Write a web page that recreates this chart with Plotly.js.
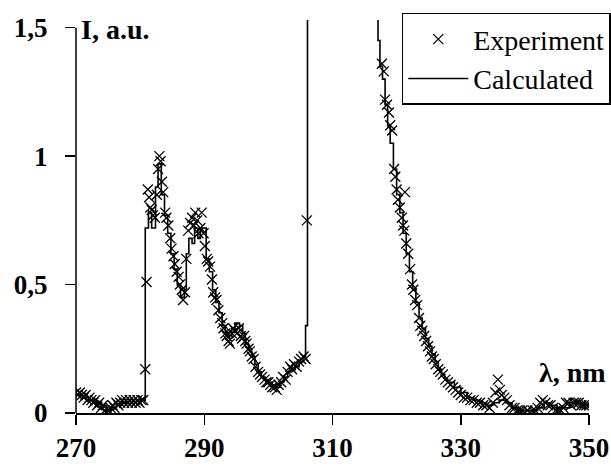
<!DOCTYPE html>
<html>
<head>
<meta charset="utf-8">
<script src="https://cdn.plot.ly/plotly-3.0.1.min.js"></script>
<style>html,body{margin:0;padding:0;background:#fff;}#chart{width:611px;height:474px;}</style>
</head>
<body>
<div id="chart"></div>
<script>
// Experiment (x markers)
const expX = [270.0,270.3,270.6,270.9,271.2,271.5,271.8,272.1,272.4,272.7,273.0,273.3,273.6,273.9,274.2,274.5,274.8,275.1,275.4,275.7,276.0,276.3,276.6,276.9,277.2,277.5,277.8,278.1,278.4,278.7,279.0,279.3,279.6,279.9,280.2,280.5,280.8,281.0,281.2,281.4,281.6,281.8,282.0,282.3,282.6,282.8,283.0,283.2,283.4,283.6,283.9,284.1,284.4,284.7,284.9,285.2,285.4,285.7,286.0,286.2,286.5,286.7,287.0,287.2,287.5,287.8,288.1,288.4,288.6,288.9,289.1,289.4,289.6,289.9,290.1,290.4,290.6,290.9,291.2,291.4,291.7,291.9,292.2,292.5,292.8,293.0,293.3,293.5,293.8,294.0,294.3,294.5,294.8,295.1,295.4,295.7,295.9,296.2,296.4,296.6,296.9,297.1,297.4,297.7,298.0,298.4,298.7,299.0,299.4,299.7,300.0,300.3,300.6,301.0,301.3,301.6,302.0,302.3,302.7,303.0,303.4,303.7,304.0,304.4,304.8,305.1,305.5,305.8,306.0,
317.7,318.0,318.2,318.5,318.8,319.0,319.3,319.6,319.8,320.0,320.2,320.5,320.8,321.0,321.2,321.3,321.5,321.8,322.1,322.4,322.6,322.9,323.2,323.5,323.7,324.0,324.3,324.6,324.9,325.2,325.5,325.8,326.1,326.5,326.8,327.2,327.6,328.0,328.4,328.8,329.2,329.6,330.0,330.5,331.0,331.5,332.0,332.5,333.0,333.5,334.0,334.5,335.0,335.4,335.8,336.1,336.4,336.8,337.2,337.6,338.0,338.4,338.8,339.2,339.6,340.0,340.4,340.8,341.2,341.6,342.0,342.4,342.8,343.2,343.6,344.0,344.4,344.8,345.2,345.6,346.0,346.4,346.8,347.2,347.6,348.0,348.4,348.8,349.2,349.6,350.0];
const expY = [0.08,0.07,0.08,0.07,0.06,0.07,0.05,0.06,0.05,0.04,0.05,0.03,0.04,0.02,0.03,0.01,0.00,0.01,0.02,0.03,0.02,0.04,0.03,0.04,0.05,0.04,0.05,0.04,0.05,0.04,0.05,0.04,0.05,0.04,0.05,0.05,0.17,0.51,0.87,0.84,0.80,0.79,0.77,0.76,0.85,0.95,1.00,0.98,0.90,0.86,0.78,0.76,0.73,0.68,0.64,0.61,0.58,0.55,0.53,0.50,0.48,0.44,0.47,0.60,0.71,0.74,0.76,0.73,0.78,0.75,0.70,0.72,0.78,0.70,0.65,0.60,0.59,0.57,0.52,0.47,0.45,0.44,0.40,0.37,0.35,0.33,0.31,0.30,0.28,0.27,0.31,0.33,0.32,0.31,0.33,0.30,0.29,0.30,0.28,0.27,0.25,0.24,0.22,0.21,0.18,0.16,0.15,0.14,0.13,0.12,0.12,0.11,0.10,0.10,0.09,0.11,0.12,0.14,0.13,0.16,0.18,0.17,0.19,0.18,0.20,0.21,0.22,0.21,0.75,
1.36,1.33,1.22,1.20,1.17,1.12,1.10,0.95,0.92,0.87,0.83,0.80,0.76,0.73,0.71,0.86,0.66,0.62,0.56,0.50,0.48,0.44,0.42,0.37,0.34,0.32,0.30,0.28,0.26,0.24,0.22,0.21,0.19,0.17,0.16,0.15,0.13,0.12,0.11,0.10,0.09,0.08,0.07,0.06,0.06,0.05,0.05,0.04,0.04,0.03,0.03,0.02,0.04,0.08,0.13,0.09,0.07,0.06,0.05,0.03,0.02,0.02,0.01,0.01,0.01,0.00,0.01,0.00,0.01,0.01,0.02,0.04,0.05,0.04,0.03,0.03,0.02,0.01,0.01,0.01,0.02,0.04,0.04,0.03,0.04,0.04,0.04,0.03,0.03,0.03,0.03];

// Calculated (step line)
const calcX = [270.0,271.0,272.0,273.0,274.0,274.8,275.5,276.3,277.0,278.0,279.0,280.0,280.6,280.8,281.3,281.8,282.4,282.8,283.3,283.8,284.3,284.8,285.3,285.8,286.3,286.9,287.2,287.6,288.1,288.5,289.0,289.4,290.0,290.3,290.8,291.3,291.8,292.3,292.8,293.3,293.8,294.3,294.8,295.5,296.0,296.4,296.9,297.4,297.9,298.4,298.9,299.5,300.0,300.6,301.2,301.8,302.4,303.0,303.6,304.2,304.8,305.4,305.8,306.1,
317.1,317.4,317.8,318.2,318.6,319.0,319.5,320.0,320.5,321.0,321.5,322.0,322.5,323.0,323.5,324.0,324.5,325.0,325.5,326.0,326.5,327.0,327.5,328.0,329.0,330.0,331.0,332.0,333.0,334.0,335.0,336.0,337.0,338.0,339.0,340.0,341.0,342.0,343.0,344.0,345.0,346.0,347.0,348.0,349.0,350.0];
const calcY = [0.07,0.06,0.05,0.04,0.03,0.01,0.02,0.03,0.04,0.045,0.045,0.05,0.05,0.72,0.78,0.72,0.88,0.97,0.85,0.77,0.70,0.62,0.56,0.50,0.45,0.48,0.62,0.68,0.66,0.72,0.68,0.72,0.72,0.60,0.55,0.48,0.43,0.39,0.34,0.31,0.30,0.33,0.35,0.34,0.31,0.27,0.25,0.22,0.19,0.16,0.14,0.13,0.12,0.11,0.10,0.12,0.14,0.16,0.17,0.18,0.20,0.22,0.34,3.0,
1.45,1.35,1.30,1.20,1.12,1.05,0.95,0.85,0.78,0.70,0.62,0.55,0.48,0.43,0.37,0.33,0.29,0.26,0.23,0.20,0.17,0.15,0.13,0.12,0.10,0.08,0.06,0.05,0.04,0.03,0.04,0.05,0.04,0.02,0.01,0.01,0.01,0.02,0.04,0.03,0.02,0.02,0.04,0.04,0.03,0.03];

const xTicks = [270,290,310,330,350];
const yTickVals = [0,0.5,1,1.5];
const yTickText = ['0','0,5','1','1,5'];

const FONT = 'Liberation Serif';

const traces = [
  {x: expX, y: expY, type: 'scatter', mode: 'markers', name: 'Experiment',
   marker: {symbol: 'x-thin-open', size: 10, color: '#000', line: {color: '#000', width: 1.3}}},
  {x: calcX, y: calcY, type: 'scatter', mode: 'lines', name: 'Calculated',
   line: {color: '#000', width: 1.6, shape: 'hv'}}
];

const layout = {
  width: 611, height: 474,
  margin: {l: 76, r: 22, t: 20, b: 61, autoexpand: false},
  paper_bgcolor: '#fff', plot_bgcolor: '#fff',
  font: {family: FONT, color: '#000'},
  showlegend: true,
  legend: {x: 0.635, xanchor: 'left', y: 1.018, yanchor: 'top',
    bgcolor: '#fff', bordercolor: '#000', borderwidth: 1.5,
    font: {family: FONT, size: 28, color: '#000'}, itemwidth: 60, tracegroupgap: 0},
  xaxis: {range: [270, 350], tickvals: xTicks, ticktext: xTicks.map(String),
    ticks: 'outside', ticklen: 10, tickwidth: 1.5, tickcolor: '#000',
    showline: true, linecolor: '#000', linewidth: 1.5, showgrid: false, zeroline: false,
    tickfont: {family: FONT, size: 27, color: '#000', weight: 'bold'}, ticklabelstandoff: 0},
  yaxis: {range: [0, 1.53], tickvals: yTickVals, ticktext: yTickText,
    ticks: 'outside', ticklen: 10, tickwidth: 1.5, tickcolor: '#000',
    showline: false, showgrid: false, zeroline: false,
    tickfont: {family: FONT, size: 27, color: '#000', weight: 'bold'}, ticklabelstandoff: 12},
  shapes: [
    {type: 'line', xref: 'paper', yref: 'y', x0: 0, x1: 0, y0: 0, y1: 1.5,
     line: {color: '#000', width: 1.5}}
  ],
  annotations: [
    {text: 'I, a.u.', xref: 'paper', yref: 'paper', x: 0.006, y: 0.977, xanchor: 'left', yanchor: 'middle',
     showarrow: false, font: {family: FONT, size: 28, color: '#000', weight: 'bold'}},
    {text: 'λ, nm', xref: 'paper', yref: 'paper', x: 0.967, y: 0.104, xanchor: 'center', yanchor: 'middle',
     showarrow: false, font: {family: FONT, size: 28, color: '#000', weight: 'bold'}}
  ]
};

Plotly.newPlot('chart', traces, layout, {displayModeBar: false, staticPlot: true});
</script>
</body>
</html>
